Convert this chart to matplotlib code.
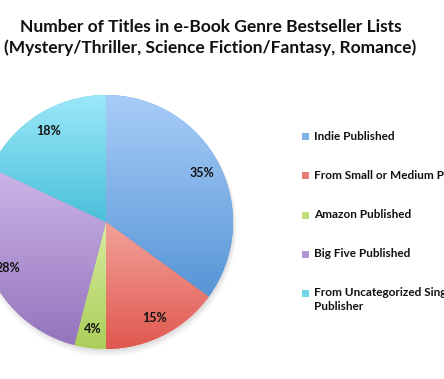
import numpy as np
import matplotlib.pyplot as plt
from matplotlib.colors import LinearSegmentedColormap, to_rgb
from matplotlib.patches import Rectangle, Circle

legend_text = ["Indie Published", "From Small or Medium Pu", "Amazon Published",
               "Big Five Published", "From Uncategorized Sing\nPublisher"]
shares = [35, 15, 4, 28, 18]
top_colors = ["#a9cdf8", "#f2a29a", "#d8eda0", "#cdb6e8", "#9be8f8"]
bottom_colors = ["#5695d6", "#e0584f", "#aace5a", "#9474bd", "#4ac0da"]
title_lines = ["Number of Titles in e-Book Genre Bestseller Lists",
               "(Mystery/Thriller, Science Fiction/Fantasy, Romance)"]

plt.rcParams['font.family'] = ['Lato', 'DejaVu Sans']
W, H = 444, 379
fig = plt.figure(figsize=(W / 100, H / 100), dpi=100)

cx, cy, r = 106, 222, 127
ax = fig.add_axes([(cx - r) / W, (H - cy - r) / H, 2 * r / W, 2 * r / H])
ax.set_aspect('equal')
ax.axis('off')

# soft shadow
for i, a in enumerate([0.05, 0.04, 0.03]):
    ax.add_patch(Circle((0.01, -0.02 - 0.01 * i), 1.0 + 0.01 * i, color='black',
                        alpha=a, lw=0, zorder=0, clip_on=False))

wedges, _, autotexts = ax.pie(shares, startangle=90, counterclock=False, radius=1.0,
                              autopct='%d%%', pctdistance=0.85,
                              colors=bottom_colors, wedgeprops=dict(lw=0),
                              textprops=dict(fontsize=9, fontweight='bold', color='#111111'))
ax.set_xlim(-1, 1)
ax.set_ylim(-1, 1)

# vertical gradient in each slice
for w, c0, c1 in zip(wedges, top_colors, bottom_colors):
    verts = w.get_path().vertices
    y0, y1 = verts[:, 1].min(), verts[:, 1].max()
    x0, x1 = verts[:, 0].min(), verts[:, 0].max()
    cmap = LinearSegmentedColormap.from_list('g', [c1, c0])
    grad = np.linspace(0, 1, 256).reshape(-1, 1)
    im = ax.imshow(grad, cmap=cmap, origin='lower', extent=[x0, x1, y0, y1],
                   aspect='auto', zorder=1.5)
    im.set_clip_path(w)
ax.set_xlim(-1, 1)
ax.set_ylim(-1, 1)
for t in autotexts:
    t.set_zorder(3)

fig.text(211 / W, 1 - 27 / H, title_lines[0], ha='center', va='center',
         fontsize=12.5, fontweight='bold', color='#111111')
fig.text(210 / W, 1 - 48 / H, title_lines[1], ha='center', va='center',
         fontsize=12.5, fontweight='bold', color='#111111')

rows = [137, 176, 215, 254, 293]
for y, txt, c0, c1 in zip(rows, legend_text, top_colors, bottom_colors):
    mid = tuple((np.array(to_rgb(c0)) + np.array(to_rgb(c1))) / 2)
    fig.patches.append(Rectangle(((305 - 3.5) / W, (H - y - 3.5) / H), 7 / W, 7 / H,
                                 transform=fig.transFigure, color=mid, lw=0))
    fig.text(314 / W, 1 - (y - 6) / H, txt, ha='left', va='top', fontsize=8.5,
             fontweight='bold', color='#111111', linespacing=1.3)

fig.savefig("out.png", dpi=100)
